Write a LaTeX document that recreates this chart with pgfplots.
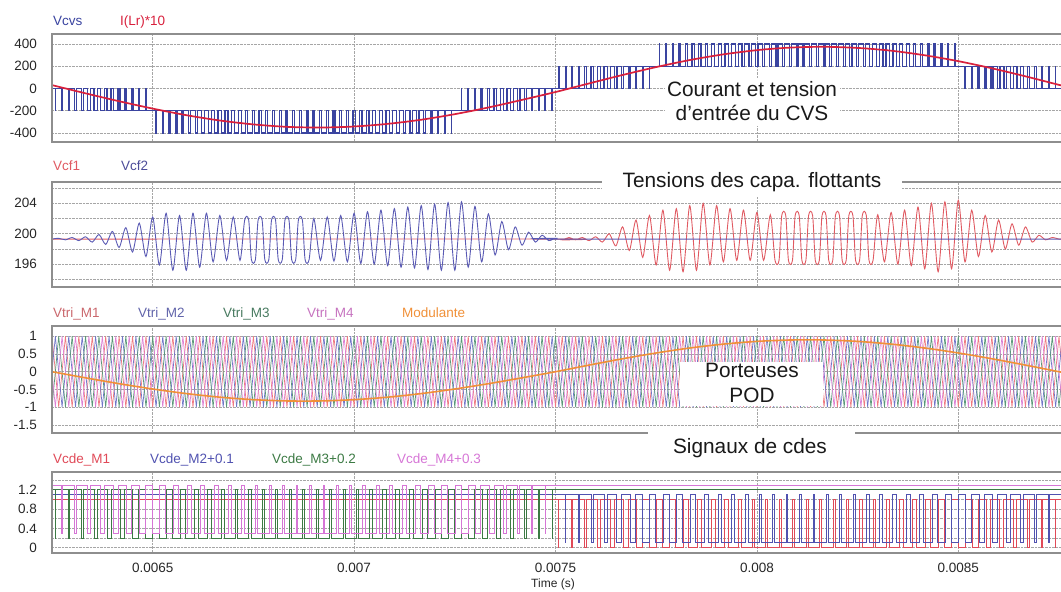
\documentclass[border=0pt]{standalone}
\usepackage{fontspec}
\setmainfont{Liberation Sans}
\usepackage{pgfplots}
\usepackage{pgfplotstable}
\pgfplotsset{compat=1.18}

% x axis unit = one Vcvs pulse period (16.67 us); 15 -> 0.0065 s
\definecolor{cvs}{HTML}{3A44A0}
\definecolor{cur}{HTML}{D8203C}
\definecolor{cfr}{HTML}{E05A62}
\definecolor{cfb}{HTML}{5A5AB4}
\definecolor{tr}{HTML}{EE7A80}
\definecolor{tb}{HTML}{7276C8}
\definecolor{tg}{HTML}{5A9878}
\definecolor{tm}{HTML}{DC80D4}
\definecolor{modc}{HTML}{F09038}
\definecolor{dr}{HTML}{E04A58}
\definecolor{db}{HTML}{5052B0}
\definecolor{dg}{HTML}{3C7A44}
\definecolor{dm}{HTML}{D676D6}
\definecolor{frm}{HTML}{8E8E8E}

\newcommand\lblfont{\fontsize{13.5}{16}\selectfont}
\newcommand\annfont{\fontsize{20.8}{24}\selectfont}

\pgfplotsset{psim/.style={
  scale only axis, width=1009pt, anchor=north west,
  xmin=0, xmax=150.3,
  xtick={15,45,75,105,135}, xticklabels={},
  axis line style={draw=none},
  tick style={draw=none}, major tick length=0pt, minor tick length=0pt,
  grid=both,
  major grid style={black!35, densely dotted, line width=0.7pt},
  minor grid style={black!35, densely dotted, line width=0.7pt},
  yticklabel style={font=\lblfont, text=black!85, anchor=east, inner sep=0pt, xshift=-15pt},
}}

% carrier vertices: M1 / M3 at integer x
\pgfplotstableread[row sep=\\]{
x a b\\
0 1 -1\\1 -1 1\\2 1 -1\\3 -1 1\\4 1 -1\\5 -1 1\\6 1 -1\\7 -1 1\\8 1 -1\\9 -1 1\\
10 1 -1\\11 -1 1\\12 1 -1\\13 -1 1\\14 1 -1\\15 -1 1\\16 1 -1\\17 -1 1\\18 1 -1\\19 -1 1\\
20 1 -1\\21 -1 1\\22 1 -1\\23 -1 1\\24 1 -1\\25 -1 1\\26 1 -1\\27 -1 1\\28 1 -1\\29 -1 1\\
30 1 -1\\31 -1 1\\32 1 -1\\33 -1 1\\34 1 -1\\35 -1 1\\36 1 -1\\37 -1 1\\38 1 -1\\39 -1 1\\
40 1 -1\\41 -1 1\\42 1 -1\\43 -1 1\\44 1 -1\\45 -1 1\\46 1 -1\\47 -1 1\\48 1 -1\\49 -1 1\\
50 1 -1\\51 -1 1\\52 1 -1\\53 -1 1\\54 1 -1\\55 -1 1\\56 1 -1\\57 -1 1\\58 1 -1\\59 -1 1\\
60 1 -1\\61 -1 1\\62 1 -1\\63 -1 1\\64 1 -1\\65 -1 1\\66 1 -1\\67 -1 1\\68 1 -1\\69 -1 1\\
70 1 -1\\71 -1 1\\72 1 -1\\73 -1 1\\74 1 -1\\75 -1 1\\76 1 -1\\77 -1 1\\78 1 -1\\79 -1 1\\
80 1 -1\\81 -1 1\\82 1 -1\\83 -1 1\\84 1 -1\\85 -1 1\\86 1 -1\\87 -1 1\\88 1 -1\\89 -1 1\\
90 1 -1\\91 -1 1\\92 1 -1\\93 -1 1\\94 1 -1\\95 -1 1\\96 1 -1\\97 -1 1\\98 1 -1\\99 -1 1\\
100 1 -1\\101 -1 1\\102 1 -1\\103 -1 1\\104 1 -1\\105 -1 1\\106 1 -1\\107 -1 1\\108 1 -1\\109 -1 1\\
110 1 -1\\111 -1 1\\112 1 -1\\113 -1 1\\114 1 -1\\115 -1 1\\116 1 -1\\117 -1 1\\118 1 -1\\119 -1 1\\
120 1 -1\\121 -1 1\\122 1 -1\\123 -1 1\\124 1 -1\\125 -1 1\\126 1 -1\\127 -1 1\\128 1 -1\\129 -1 1\\
130 1 -1\\131 -1 1\\132 1 -1\\133 -1 1\\134 1 -1\\135 -1 1\\136 1 -1\\137 -1 1\\138 1 -1\\139 -1 1\\
140 1 -1\\141 -1 1\\142 1 -1\\143 -1 1\\144 1 -1\\145 -1 1\\146 1 -1\\147 -1 1\\148 1 -1\\149 -1 1\\
150 1 -1\\151 -1 1\\
}\carA

% carrier vertices: M2 / M4 at half-integer x
\pgfplotstableread[row sep=\\]{
x a b\\
-0.5 -1 1\\
0.5 1 -1\\1.5 -1 1\\2.5 1 -1\\3.5 -1 1\\4.5 1 -1\\5.5 -1 1\\6.5 1 -1\\7.5 -1 1\\8.5 1 -1\\9.5 -1 1\\
10.5 1 -1\\11.5 -1 1\\12.5 1 -1\\13.5 -1 1\\14.5 1 -1\\15.5 -1 1\\16.5 1 -1\\17.5 -1 1\\18.5 1 -1\\19.5 -1 1\\
20.5 1 -1\\21.5 -1 1\\22.5 1 -1\\23.5 -1 1\\24.5 1 -1\\25.5 -1 1\\26.5 1 -1\\27.5 -1 1\\28.5 1 -1\\29.5 -1 1\\
30.5 1 -1\\31.5 -1 1\\32.5 1 -1\\33.5 -1 1\\34.5 1 -1\\35.5 -1 1\\36.5 1 -1\\37.5 -1 1\\38.5 1 -1\\39.5 -1 1\\
40.5 1 -1\\41.5 -1 1\\42.5 1 -1\\43.5 -1 1\\44.5 1 -1\\45.5 -1 1\\46.5 1 -1\\47.5 -1 1\\48.5 1 -1\\49.5 -1 1\\
50.5 1 -1\\51.5 -1 1\\52.5 1 -1\\53.5 -1 1\\54.5 1 -1\\55.5 -1 1\\56.5 1 -1\\57.5 -1 1\\58.5 1 -1\\59.5 -1 1\\
60.5 1 -1\\61.5 -1 1\\62.5 1 -1\\63.5 -1 1\\64.5 1 -1\\65.5 -1 1\\66.5 1 -1\\67.5 -1 1\\68.5 1 -1\\69.5 -1 1\\
70.5 1 -1\\71.5 -1 1\\72.5 1 -1\\73.5 -1 1\\74.5 1 -1\\75.5 -1 1\\76.5 1 -1\\77.5 -1 1\\78.5 1 -1\\79.5 -1 1\\
80.5 1 -1\\81.5 -1 1\\82.5 1 -1\\83.5 -1 1\\84.5 1 -1\\85.5 -1 1\\86.5 1 -1\\87.5 -1 1\\88.5 1 -1\\89.5 -1 1\\
90.5 1 -1\\91.5 -1 1\\92.5 1 -1\\93.5 -1 1\\94.5 1 -1\\95.5 -1 1\\96.5 1 -1\\97.5 -1 1\\98.5 1 -1\\99.5 -1 1\\
100.5 1 -1\\101.5 -1 1\\102.5 1 -1\\103.5 -1 1\\104.5 1 -1\\105.5 -1 1\\106.5 1 -1\\107.5 -1 1\\108.5 1 -1\\109.5 -1 1\\
110.5 1 -1\\111.5 -1 1\\112.5 1 -1\\113.5 -1 1\\114.5 1 -1\\115.5 -1 1\\116.5 1 -1\\117.5 -1 1\\118.5 1 -1\\119.5 -1 1\\
120.5 1 -1\\121.5 -1 1\\122.5 1 -1\\123.5 -1 1\\124.5 1 -1\\125.5 -1 1\\126.5 1 -1\\127.5 -1 1\\128.5 1 -1\\129.5 -1 1\\
130.5 1 -1\\131.5 -1 1\\132.5 1 -1\\133.5 -1 1\\134.5 1 -1\\135.5 -1 1\\136.5 1 -1\\137.5 -1 1\\138.5 1 -1\\139.5 -1 1\\
140.5 1 -1\\141.5 -1 1\\142.5 1 -1\\143.5 -1 1\\144.5 1 -1\\145.5 -1 1\\146.5 1 -1\\147.5 -1 1\\148.5 1 -1\\149.5 -1 1\\
150.5 1 -1\\
}\carB

\begin{document}
\begin{tikzpicture}
\useasboundingbox (0,0) rectangle (1061pt,-592pt);

% ---------- panel 1 : Vcvs, I(Lr)*10
\begin{axis}[psim, at={(52pt,-34pt)}, height=108pt,
  ymin=-480, ymax=490, ytick={-400,-200,0,200,400},
  yticklabels={-400,-200,0,200,400}]
\addplot[cvs, line width=1.2pt, const plot] coordinates {
(0,0)
(0.48,-200)(0.52,0)(1.45,-200)(1.55,0)(2.41,-200)(2.59,0)(3.37,-200)(3.63,0)
(4.34,-200)(4.66,0)(5.3,-200)(5.7,0)(6.27,-200)(6.73,0)(7.23,-200)(7.77,0)
(8.2,-200)(8.8,0)(9.16,-200)(9.84,0)(10.13,-200)(10.87,0)(11.1,-200)(11.9,0)
(12.06,-200)(12.94,0)(13.03,-200)(13.97,0)(14,-200)
(15.47,-400)(15.53,-200)(16.45,-400)(16.55,-200)(17.42,-400)(17.58,-200)
(18.39,-400)(18.61,-200)(19.37,-400)(19.63,-200)(20.34,-400)(20.66,-200)
(21.32,-400)(21.68,-200)(22.3,-400)(22.7,-200)(23.28,-400)(23.72,-200)
(24.26,-400)(24.74,-200)(25.24,-400)(25.76,-200)(26.22,-400)(26.78,-200)
(27.21,-400)(27.79,-200)(28.19,-400)(28.81,-200)(29.18,-400)(29.82,-200)
(30.17,-400)(30.83,-200)(31.16,-400)(31.84,-200)(32.15,-400)(32.85,-200)
(33.14,-400)(33.86,-200)(34.14,-400)(34.86,-200)(35.13,-400)(35.87,-200)
(36.13,-400)(36.87,-200)(37.13,-400)(37.87,-200)(38.13,-400)(38.87,-200)
(39.13,-400)(39.87,-200)(40.14,-400)(40.86,-200)(41.14,-400)(41.86,-200)
(42.15,-400)(42.85,-200)(43.16,-400)(43.84,-200)(44.17,-400)(44.83,-200)
(45.18,-400)(45.82,-200)(46.19,-400)(46.81,-200)(47.21,-400)(47.79,-200)
(48.22,-400)(48.78,-200)(49.24,-400)(49.76,-200)(50.26,-400)(50.74,-200)
(51.28,-400)(51.72,-200)(52.3,-400)(52.7,-200)(53.32,-400)(53.68,-200)
(54.34,-400)(54.66,-200)(55.37,-400)(55.63,-200)(56.39,-400)(56.61,-200)
(57.42,-400)(57.58,-200)(58.45,-400)(58.55,-200)(59.47,-400)(59.53,-200)
(61,0)
(61.03,-200)(61.97,0)(62.06,-200)(62.94,0)(63.1,-200)(63.9,0)(64.13,-200)(64.87,0)
(65.16,-200)(65.84,0)(66.2,-200)(66.8,0)(67.23,-200)(67.77,0)(68.27,-200)(68.73,0)
(69.3,-200)(69.7,0)(70.34,-200)(70.66,0)(71.37,-200)(71.63,0)(72.41,-200)(72.59,0)
(73.45,-200)(73.55,0)(74.48,-200)(74.52,0)
(75.48,200)(75.52,0)(76.45,200)(76.55,0)(77.41,200)(77.59,0)(78.37,200)(78.63,0)
(79.34,200)(79.66,0)(80.3,200)(80.7,0)(81.27,200)(81.73,0)(82.23,200)(82.77,0)
(83.2,200)(83.8,0)(84.16,200)(84.84,0)(85.13,200)(85.87,0)(86.1,200)(86.9,0)
(87.06,200)(87.94,0)(88.03,200)(88.97,0)(89,200)
(90.47,400)(90.53,200)(91.45,400)(91.55,200)(92.42,400)(92.58,200)
(93.39,400)(93.61,200)(94.37,400)(94.63,200)(95.34,400)(95.66,200)
(96.32,400)(96.68,200)(97.3,400)(97.7,200)(98.28,400)(98.72,200)
(99.26,400)(99.74,200)(100.24,400)(100.76,200)(101.22,400)(101.78,200)
(102.21,400)(102.79,200)(103.19,400)(103.81,200)(104.18,400)(104.82,200)
(105.17,400)(105.83,200)(106.16,400)(106.84,200)(107.15,400)(107.85,200)
(108.14,400)(108.86,200)(109.14,400)(109.86,200)(110.13,400)(110.87,200)
(111.13,400)(111.87,200)(112.13,400)(112.87,200)(113.13,400)(113.87,200)
(114.13,400)(114.87,200)(115.14,400)(115.86,200)(116.14,400)(116.86,200)
(117.15,400)(117.85,200)(118.16,400)(118.84,200)(119.17,400)(119.83,200)
(120.18,400)(120.82,200)(121.19,400)(121.81,200)(122.21,400)(122.79,200)
(123.22,400)(123.78,200)(124.24,400)(124.76,200)(125.26,400)(125.74,200)
(126.28,400)(126.72,200)(127.3,400)(127.7,200)(128.32,400)(128.68,200)
(129.34,400)(129.66,200)(130.37,400)(130.63,200)(131.39,400)(131.61,200)
(132.42,400)(132.58,200)(133.45,400)(133.55,200)(134.47,400)(134.53,200)
(136,0)
(136.03,200)(136.97,0)(137.06,200)(137.94,0)(138.1,200)(138.9,0)(139.13,200)(139.87,0)
(140.16,200)(140.84,0)(141.2,200)(141.8,0)(142.23,200)(142.77,0)(143.27,200)(143.73,0)
(144.3,200)(144.7,0)(145.34,200)(145.66,0)(146.37,200)(146.63,0)(147.41,200)(147.59,0)
(148.45,200)(148.55,0)(149.48,200)(149.52,0)(150.3,0)
};
\addplot[cur, line width=1.7pt, smooth] coordinates {
(0,31)(5,-43)(10,-114)(15,-180)(20,-239)(25,-287)(30,-322)(35,-344)(40,-350)
(45,-341)(50,-317)(55,-280)(60,-230)(65,-170)(70,-102)(75,-31)(80,46)(85,122)
(90,193)(95,256)(100,307)(105,345)(110,368)(115,375)(120,365)(125,340)(130,299)
(135,246)(140,182)(145,110)(150,33)(150.3,30)
};
\end{axis}

% ---------- panel 2 : Vcf1, Vcf2
\begin{axis}[psim, at={(52pt,-182pt)}, height=105pt,
  ymin=193, ymax=206.8, ytick={196,200,204}, minor ytick={194,198,202,206},
  yticklabels={196,200,204}]
\addplot[cfr, line width=0.9pt, smooth, tension=0.45] coordinates {
(0,199.3)(75,199.3)(76,199.2)(77,199.5)(78,199.2)(79,199.5)(80,199.1)(81,199.6)
(82,198.9)(83,200.0)(84,198.4)(85,200.9)(86,197.8)(87,201.8)(88,196.9)(89,202.4)
(90,195.9)(91,203.1)(92,195.2)(93,203.3)(94,195.0)(95,203.7)(96,195.2)(97,204.0)
(98,195.9)(99,203.7)(100,196.3)(101,203.3)(102,196.5)(103,203.1)(104,196.5)
(105,202.8)(106,196.5)(107,202.5)
(107.7,196.5)(108.3,196.5)(108.7,202.4)(109.3,202.4)(109.7,196.5)(110.3,196.5)
(110.7,202.4)(111.3,202.4)(111.7,196.5)(112.3,196.5)(112.7,202.4)(113.3,202.4)
(113.7,196.5)(114.3,196.5)(114.7,202.4)(115.3,202.4)(115.7,196.5)(116.3,196.5)
(116.7,202.4)(117.3,202.4)(117.7,196.5)(118.3,196.5)(118.7,202.4)(119.3,202.4)
(119.7,196.5)(120.3,196.5)(120.7,202.4)(121.3,202.4)(121.7,196.5)(122.3,196.5)
(123,202.5)(124,196.3)(125,202.8)(126,196.0)(127,203.1)(128,195.8)(129,203.5)
(130,195.4)(131,204.0)(132,195.0)(133,204.2)(134,195.4)(135,204.4)(136,196.3)
(137,203.1)(138,197.0)(139,202.4)(140,197.6)(141,201.8)(142,198.0)(143,201.3)
(144,198.5)(145,200.9)(146,198.9)(147,199.8)(148,199.2)(149,199.5)(150,199.3)(150.3,199.3)
};
\addplot[cfb, line width=0.9pt, smooth, tension=0.45] coordinates {
(0,199.3)(1,199.4)(2,199.2)(3,199.5)(4,199.1)(5,199.6)(6,198.9)(7,199.9)(8,198.6)
(9,200.3)(10,198.2)(11,200.8)(12,197.6)(13,201.4)(14,197.0)(15,202.2)(16,195.9)
(17,202.7)(18,195.2)(19,202.4)(20,195.2)(21,202.7)(22,195.6)(23,202.7)(24,196.3)
(25,202.4)(26,196.5)(27,202.2)(28,196.5)
(28.7,201.8)(29.3,201.8)(29.7,196.6)(30.3,196.6)(30.7,201.8)(31.3,201.8)
(31.7,196.6)(32.3,196.6)(32.7,201.8)(33.3,201.8)(33.7,196.6)(34.3,196.6)
(34.7,201.8)(35.3,201.8)(35.7,196.6)(36.3,196.6)(36.7,201.8)(37.3,201.8)
(37.7,196.6)(38.3,196.6)
(39,202.0)(40,196.5)(41,202.2)(42,196.4)(43,202.4)(44,196.3)(45,202.7)(46,196.1)
(47,202.9)(48,196.0)(49,203.1)(50,195.8)(51,203.3)(52,195.6)(53,203.5)(54,195.5)
(55,203.7)(56,195.3)(57,203.9)(58,195.2)(59,204.1)(60,195.2)(61,204.2)(62,195.6)
(63,203.6)(64,196.3)(65,202.6)(66,197.2)(67,201.6)(68,197.9)(69,200.9)(70,198.5)
(71,200.2)(72,198.9)(73,199.8)(74,199.1)(75,199.4)(76,199.3)(150.3,199.3)
};
\end{axis}

% ---------- panel 3 : carriers and modulating signal
\begin{axis}[psim, at={(52pt,-326pt)}, height=107pt,
  ymin=-1.73, ymax=1.29, ytick={-1.5,-1,-0.5,0,0.5,1},
  yticklabels={-1.5,-1,-0.5,0,0.5,1}]
\addplot[tr, line width=0.7pt] table[x=x, y=a] {\carA};
\addplot[tb, line width=0.7pt] table[x=x, y=a] {\carB};
\addplot[tg, line width=0.7pt] table[x=x, y=b] {\carA};
\addplot[tm, line width=0.7pt] table[x=x, y=b] {\carB};
\addplot[modc, line width=1.6pt, smooth] coordinates {
(0,0)(5,-0.173)(10,-0.338)(15,-0.488)(20,-0.617)(25,-0.719)(30,-0.789)(35,-0.825)
(40,-0.825)(45,-0.789)(50,-0.719)(55,-0.617)(60,-0.488)(65,-0.338)(70,-0.173)(75,0)
(80,0.187)(85,0.366)(90,0.529)(95,0.669)(100,0.779)(105,0.856)(110,0.895)(115,0.895)
(120,0.856)(125,0.779)(130,0.669)(135,0.529)(140,0.366)(145,0.187)(150,0)(150.3,-0.01)
};
\end{axis}

% ---------- panel 4 : gate signals
\begin{axis}[psim, at={(52pt,-472pt)}, height=81pt,
  ymin=-0.11, ymax=1.57, ytick={0,0.4,0.8,1.2}, minor ytick={0.2,0.6,1.0,1.4},
  yticklabels={0,0.4,0.8,1.2},
  xticklabels={0.0065,0.007,0.0075,0.008,0.0085},
  xticklabel style={font=\lblfont, text=black!85, anchor=north, inner sep=0pt, yshift=-10pt}]
\addplot[dr, line width=1pt, const plot] coordinates {
(0,1)(75.48,0)(75.52,1)(77.41,0)(77.59,1)(79.34,0)(79.66,1)(81.27,0)(81.73,1)
(83.2,0)(83.8,1)(85.13,0)(85.87,1)(87.06,0)(87.94,1)(89,0)(90,1)(90.95,0)(92.05,1)
(92.89,0)(94.11,1)(94.84,0)(96.16,1)(96.8,0)(98.2,1)(98.76,0)(100.24,1)(100.72,0)
(102.28,1)(102.69,0)(104.31,1)(104.67,0)(106.33,1)(106.65,0)(108.35,1)(108.64,0)
(110.36,1)(110.63,0)(112.37,1)(112.63,0)(114.37,1)(114.64,0)(116.36,1)(116.65,0)
(118.35,1)(118.67,0)(120.33,1)(120.69,0)(122.31,1)(122.72,0)(124.28,1)(124.76,0)
(126.24,1)(126.8,0)(128.2,1)(128.84,0)(130.16,1)(130.89,0)(132.11,1)(132.95,0)
(134.05,1)(135,0)(136,1)(137.06,0)(137.94,1)(139.13,0)(139.87,1)(141.2,0)(141.8,1)
(143.27,0)(143.73,1)(145.34,0)(145.66,1)(147.41,0)(147.59,1)(149.48,0)(149.52,1)(150.3,1)
};
\addplot[db, line width=1pt, const plot] coordinates {
(0,1.1)(76.45,0.1)(76.55,1.1)(78.37,0.1)(78.63,1.1)(80.3,0.1)(80.7,1.1)(82.23,0.1)
(82.77,1.1)(84.16,0.1)(84.84,1.1)(86.1,0.1)(86.9,1.1)(88.03,0.1)(88.97,1.1)(89.97,0.1)
(91.03,1.1)(91.92,0.1)(93.08,1.1)(93.87,0.1)(95.13,1.1)(95.82,0.1)(97.18,1.1)(97.78,0.1)
(99.22,1.1)(99.74,0.1)(101.26,1.1)(101.71,0.1)(103.29,1.1)(103.68,0.1)(105.32,1.1)
(105.66,0.1)(107.34,1.1)(107.64,0.1)(109.36,1.1)(109.63,0.1)(111.37,1.1)(111.63,0.1)
(113.37,1.1)(113.63,0.1)(115.37,1.1)(115.64,0.1)(117.36,1.1)(117.66,0.1)(119.34,1.1)
(119.68,0.1)(121.32,1.1)(121.71,0.1)(123.29,1.1)(123.74,0.1)(125.26,1.1)(125.78,0.1)
(127.22,1.1)(127.82,0.1)(129.18,1.1)(129.87,0.1)(131.13,1.1)(131.92,0.1)(133.08,1.1)
(133.97,0.1)(135.03,1.1)(136.03,0.1)(136.97,1.1)(138.1,0.1)(138.9,1.1)(140.16,0.1)
(140.84,1.1)(142.23,0.1)(142.77,1.1)(144.3,0.1)(144.7,1.1)(146.37,0.1)(146.63,1.1)
(148.45,0.1)(148.55,1.1)(150.3,1.1)
};
\addplot[dg, line width=1pt, const plot] coordinates {
(0,1.2)(0.48,0.2)(0.52,1.2)(2.41,0.2)(2.59,1.2)(4.34,0.2)(4.66,1.2)(6.27,0.2)(6.73,1.2)
(8.2,0.2)(8.8,1.2)(10.13,0.2)(10.87,1.2)(12.06,0.2)(12.94,1.2)(14,0.2)(15,1.2)
(15.95,0.2)(17.05,1.2)(17.89,0.2)(19.11,1.2)(19.84,0.2)(21.16,1.2)(21.8,0.2)(23.2,1.2)
(23.76,0.2)(25.24,1.2)(25.72,0.2)(27.28,1.2)(27.69,0.2)(29.31,1.2)(29.67,0.2)(31.33,1.2)
(31.65,0.2)(33.35,1.2)(33.64,0.2)(35.36,1.2)(35.63,0.2)(37.37,1.2)(37.63,0.2)(39.37,1.2)
(39.64,0.2)(41.36,1.2)(41.65,0.2)(43.35,1.2)(43.67,0.2)(45.33,1.2)(45.69,0.2)(47.31,1.2)
(47.72,0.2)(49.28,1.2)(49.76,0.2)(51.24,1.2)(51.8,0.2)(53.2,1.2)(53.84,0.2)(55.16,1.2)
(55.89,0.2)(57.11,1.2)(57.95,0.2)(59.05,1.2)(60,0.2)(61,1.2)(62.06,0.2)(62.94,1.2)
(64.13,0.2)(64.87,1.2)(66.2,0.2)(66.8,1.2)(68.27,0.2)(68.73,1.2)(70.34,0.2)(70.66,1.2)
(72.41,0.2)(72.59,1.2)(74.48,0.2)(74.52,1.2)(150.3,1.2)
};
\addplot[dm, line width=1pt, const plot] coordinates {
(0,1.3)(1.45,0.3)(1.55,1.3)(3.37,0.3)(3.63,1.3)(5.3,0.3)(5.7,1.3)(7.23,0.3)(7.77,1.3)
(9.16,0.3)(9.84,1.3)(11.1,0.3)(11.9,1.3)(13.03,0.3)(13.97,1.3)(14.97,0.3)(16.03,1.3)
(16.92,0.3)(18.08,1.3)(18.87,0.3)(20.13,1.3)(20.82,0.3)(22.18,1.3)(22.78,0.3)(24.22,1.3)
(24.74,0.3)(26.26,1.3)(26.71,0.3)(28.29,1.3)(28.68,0.3)(30.32,1.3)(30.66,0.3)(32.34,1.3)
(32.64,0.3)(34.36,1.3)(34.63,0.3)(36.37,1.3)(36.63,0.3)(38.37,1.3)(38.63,0.3)(40.37,1.3)
(40.64,0.3)(42.36,1.3)(42.66,0.3)(44.34,1.3)(44.68,0.3)(46.32,1.3)(46.71,0.3)(48.29,1.3)
(48.74,0.3)(50.26,1.3)(50.78,0.3)(52.22,1.3)(52.82,0.3)(54.18,1.3)(54.87,0.3)(56.13,1.3)
(56.92,0.3)(58.08,1.3)(58.97,0.3)(60.03,1.3)(61.03,0.3)(61.97,1.3)(63.1,0.3)(63.9,1.3)
(65.16,0.3)(65.84,1.3)(67.23,0.3)(67.77,1.3)(69.3,0.3)(69.7,1.3)(71.37,0.3)(71.63,1.3)
(73.45,0.3)(73.55,1.3)(150.3,1.3)
};
\end{axis}

% panel frames (right side is cut off in the original)
\begin{scope}[frm, line width=1.6pt]
\draw (1061pt,-34pt) -- (52pt,-34pt) -- (52pt,-142pt) -- (1061pt,-142pt);
\draw (1061pt,-182pt) -- (52pt,-182pt) -- (52pt,-287pt) -- (1061pt,-287pt);
\draw (1061pt,-326pt) -- (52pt,-326pt) -- (52pt,-433pt) -- (1061pt,-433pt);
\draw (1061pt,-472pt) -- (52pt,-472pt) -- (52pt,-553pt) -- (1061pt,-553pt);
\end{scope}

% trace names
\begin{scope}[every node/.style={anchor=base west, inner sep=0pt, font=\lblfont}]
\node[text=cvs] at (53pt,-25pt) {Vcvs};
\node[text=cur] at (120pt,-25pt) {I(Lr)*10};
\node[text=cfr] at (53pt,-170pt) {Vcf1};
\node[text=cfb!85!black] at (121pt,-170pt) {Vcf2};
\node[text=tr!85!black] at (53pt,-317pt) {Vtri\_M1};
\node[text=tb!85!black] at (138pt,-317pt) {Vtri\_M2};
\node[text=tg!80!black] at (223pt,-317pt) {Vtri\_M3};
\node[text=tm!90!black] at (307pt,-317pt) {Vtri\_M4};
\node[text=modc] at (402pt,-317pt) {Modulante};
\node[text=dr] at (53pt,-463pt) {Vcde\_M1};
\node[text=db] at (150pt,-463pt) {Vcde\_M2+0.1};
\node[text=dg] at (272pt,-463pt) {Vcde\_M3+0.2};
\node[text=dm] at (397pt,-463pt) {Vcde\_M4+0.3};
\end{scope}
\node[anchor=base, inner sep=0pt, font=\fontsize{12}{14}\selectfont, text=black!85] at (553pt,-587pt) {Time (s)};

% annotations
\fill[white] (665pt,-78pt) rectangle (840pt,-126pt);
\fill[white] (602pt,-165pt) rectangle (902pt,-197pt);
\fill[white] (680pt,-362pt) rectangle (823pt,-406pt);
\fill[white] (648pt,-428pt) rectangle (855pt,-466pt);
\begin{scope}[every node/.style={anchor=base, inner sep=0pt, font=\annfont, text=black!90}]
\node at (752pt,-96.7pt) {Courant et tension};
\node at (752pt,-120pt) {d’entrée du CVS};
\node at (752pt,-187.7pt) {Tensions des capa. flottants};
\node at (752pt,-377.3pt) {Porteuses};
\node at (752pt,-402.3pt) {POD};
\node at (750pt,-453pt) {Signaux de cdes};
\end{scope}
\end{tikzpicture}
\end{document}
